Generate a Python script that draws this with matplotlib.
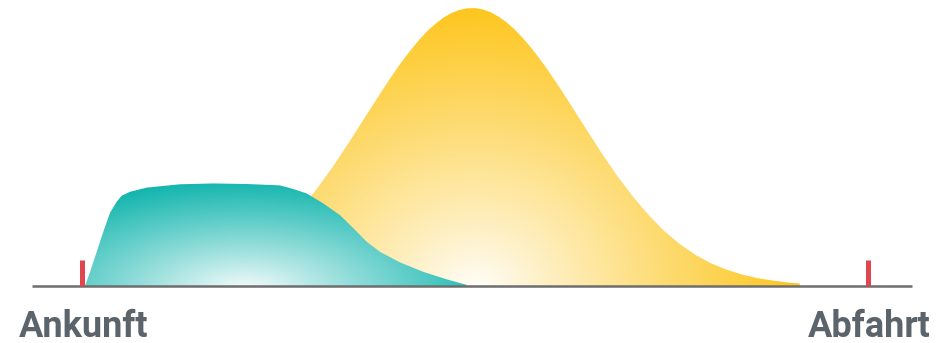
import numpy as np
import matplotlib
matplotlib.use("Agg")
import matplotlib.pyplot as plt
from matplotlib.patches import Polygon

# time of stay, 0 = arrival (Ankunft), 100 = departure (Abfahrt)
teal_x = [0.38, 1.02, 1.87, 2.71, 3.56, 4.41, 5.05, 6.11, 8.23, 12.47, 16.67,
          20.95, 25.19, 26.88, 28.59, 30.70, 32.82, 34.52, 36.22, 37.91, 40.46,
          43.42, 46.40, 48.94]
teal_y = [0.0, 5.0, 12.3, 19.5, 26.3, 30.3, 32.5, 33.9, 35.4, 36.6, 36.9,
          36.7, 36.2, 34.9, 33.3, 29.7, 25.5, 20.8, 15.9, 12.3, 8.5,
          5.1, 2.4, 0.4]

yellow_x = [10, 12, 14, 16, 18, 20, 22, 24, 26, 28, 30, 32, 34, 36, 37, 38, 39,
            40, 41, 42, 43, 44, 45, 46, 47, 48, 49, 50, 51, 52, 53, 54, 55, 56,
            57, 58, 59, 60, 61, 62, 63, 64, 66, 68, 70, 72, 74, 76, 78, 80, 82,
            84, 86, 88, 90, 91.3]
yellow_y = [1.4, 2.2, 3.3, 4.7, 6.7, 9.4, 12.8, 17.0, 22.2, 28.3, 35.4, 43.3,
            51.8, 60.7, 65.1, 69.5, 73.8, 78.0, 81.9, 85.5, 88.9, 91.9, 94.4,
            96.6, 98.2, 99.3, 99.9, 100.0, 99.5, 98.5, 96.9, 94.9, 92.4, 89.5,
            86.2, 82.6, 78.8, 74.6, 70.4, 66.0, 61.5, 57.1, 48.3, 40.0, 32.5,
            25.8, 20.0, 15.2, 11.3, 8.2, 5.9, 4.1, 2.8, 1.9, 1.2, 0.9]

marks = [0, 100]
labels = ["Ankunft", "Abfahrt"]

TEAL = np.array([18, 181, 174]) / 255
YELLOW = np.array([253, 197, 26]) / 255
GREY = "#5b636b"

W, H = 939, 343
fig = plt.figure(figsize=(W / 100, H / 100), dpi=100)
ax = fig.add_axes([0, 0, 1, 1])
xlim = (-10.43, 109.03)
ylim = (-20.5, 102.9)
ax.set_xlim(xlim)
ax.set_ylim(ylim)
ax.axis("off")

# pixel grid for the soft radial fills
px, py = np.meshgrid(np.arange(W) + 0.5, np.arange(H) + 0.5)


def radial(color, cx, cy, rx, ry, power=1.0):
    t = np.clip(np.sqrt(((px - cx) / rx) ** 2 + ((py - cy) / ry) ** 2), 0, 1) ** power
    img = np.ones((H, W, 3)) * (1 - t[..., None]) + color * t[..., None]
    return img


def gradient_fill(xs, ys, img, z):
    pts = [(xs[0], 0)] + list(zip(xs, ys)) + [(xs[-1], 0)]
    poly = Polygon(pts, closed=True, facecolor="none", edgecolor="none")
    ax.add_patch(poly)
    im = ax.imshow(img, extent=(xlim[0], xlim[1], ylim[0], ylim[1]),
                   origin="upper", aspect="auto", zorder=z, interpolation="bilinear")
    im.set_clip_path(poly)


gradient_fill(yellow_x, yellow_y, radial(YELLOW, 475, 292, 330, 290, 0.9), 1)
gradient_fill(teal_x, teal_y, radial(TEAL, 245, 292, 260, 112, 0.9), 2)

# baseline and arrival / departure marks
ax.plot([-6.36, 105.6], [0, 0], color="#6e6e6e", lw=1.8, zorder=3,
        solid_capstyle="butt")
ax.vlines(marks, 0, 9.35, color="#e0464e", lw=3.6, zorder=4)

ax.text(-8.0, -18.3, labels[0], ha="left", va="baseline", fontsize=26,
        fontweight="bold", family="Roboto", color=GREY)
ax.text(108.0, -18.3, labels[1], ha="right", va="baseline", fontsize=26,
        fontweight="bold", family="Roboto", color=GREY)

fig.savefig("out.png", dpi=100)
